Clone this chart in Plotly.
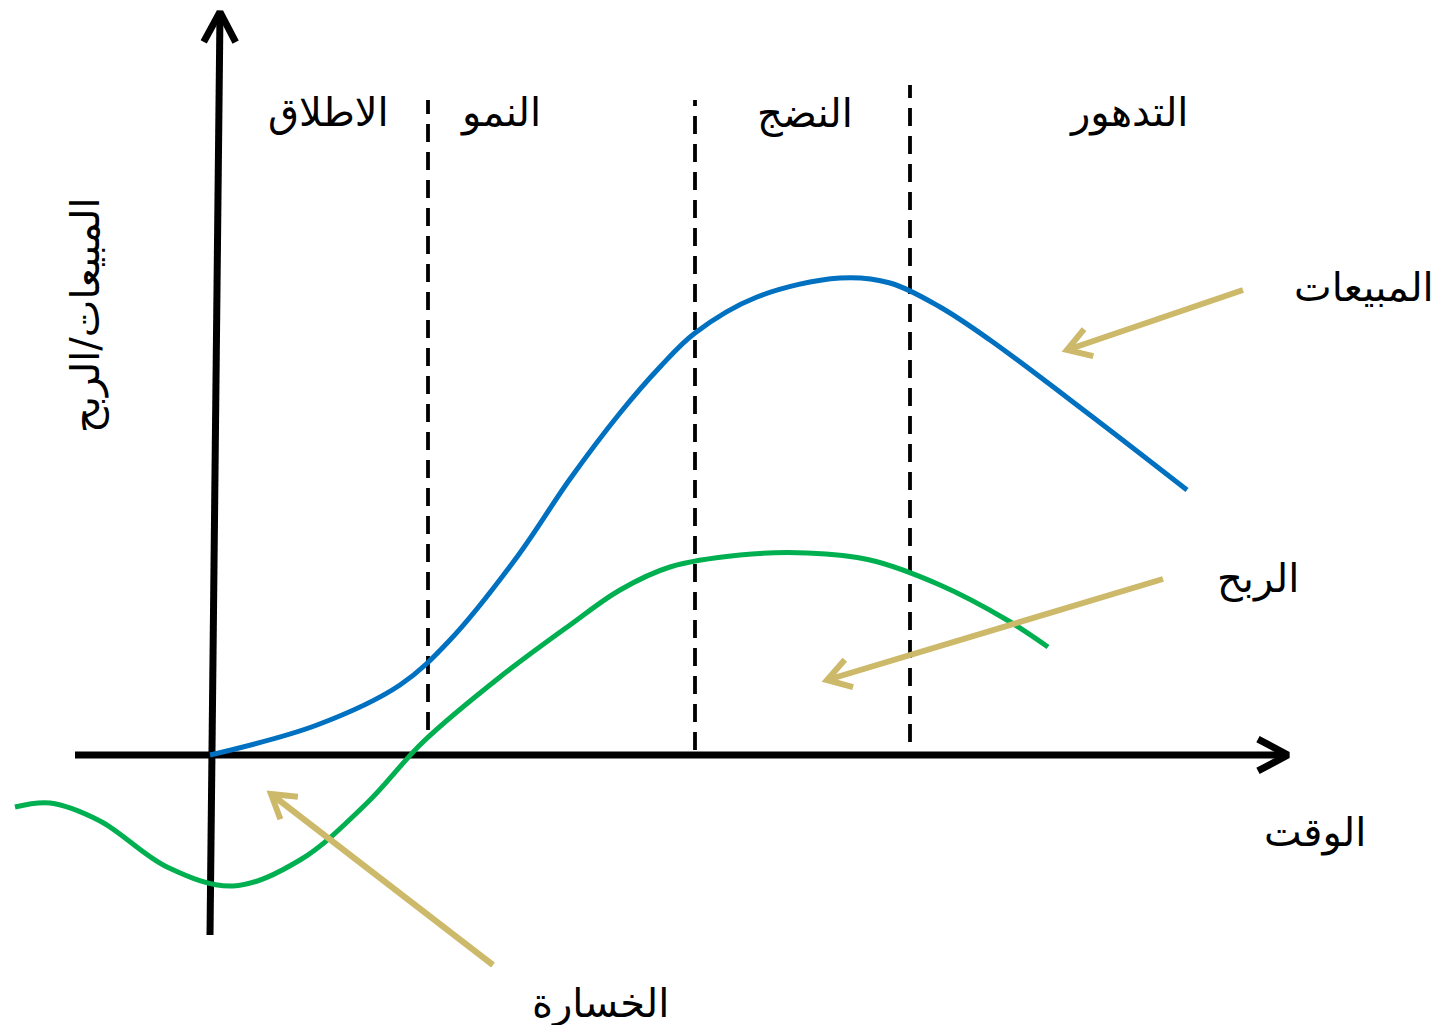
import math
import plotly.graph_objects as go

# ---- data (time units on x, value units on y) ----
sales_t = [0.0, 1.07, 1.9, 2.4, 3.07, 3.6, 4.1, 4.5, 4.85, 5.47, 6.3, 6.8, 7.3, 7.8, 8.8, 9.77]
sales_v = [0.0, 0.30, 0.70, 1.15, 1.98, 2.76, 3.42, 3.88, 4.22, 4.58, 4.77, 4.72, 4.48, 4.15, 3.40, 2.65]

profit_t = [-1.95, -1.6, -1.1, -0.43, 0.23, 0.9, 1.57, 2.13, 2.9, 3.6, 4.1, 4.6, 5.3, 5.97, 6.6, 7.3, 7.97, 8.38]
profit_v = [-0.52, -0.48, -0.66, -1.12, -1.31, -1.05, -0.48, 0.13, 0.78, 1.30, 1.65, 1.88, 2.00, 2.02, 1.95, 1.70, 1.35, 1.08]

stage_labels = ["الاطلاق", "النمو", "النضج", "التدهور"]
stage_bounds = [2.18, 4.85, 7.0]

sales_label = "المبيعات"
profit_label = "الربح"
loss_label = "الخسارة"
time_label = "الوقت"
yaxis_label = "المبيعات/الربح"

# ---- styles / layout constants ----
BLUE = "#0070C0"
GREEN = "#00B050"
GOLD = "#CDB96A"
FONT = "DejaVu Sans, Liberation Serif, serif"
FS = 40

fig = go.Figure()

def add_line(xs, ys, color, width, dash=None, shape="linear"):
    line = dict(color=color, width=width, dash=dash, shape=shape)
    if shape == "spline":
        line["smoothing"] = 1.0
    fig.add_trace(go.Scatter(x=xs, y=ys, mode="lines", hoverinfo="skip",
                             line=line, showlegend=False))

def add_arrow(tail, tip, color, width, arm=0.28, ang=32):
    add_line([tail[0], tip[0]], [tail[1], tip[1]], color, width)
    dx, dy = tail[0] - tip[0], tail[1] - tip[1]
    L = math.hypot(dx, dy)
    ux, uy = dx / L, dy / L
    xs, ys = [], []
    for s in (1, -1):
        a = math.radians(ang) * s
        rx = ux * math.cos(a) - uy * math.sin(a)
        ry = ux * math.sin(a) + uy * math.cos(a)
        xs.append(tip[0] + rx * arm)
        ys.append(tip[1] + ry * arm)
    add_line([xs[0], tip[0], xs[1]], [ys[0], tip[1], ys[1]], color, width)

# dashed stage boundaries
dash_tops = [6.55, 6.55, 6.7]
dash_bottoms = [0.25, 0.05, 0.13]
for b, top, bot in zip(stage_bounds, dash_tops, dash_bottoms):
    add_line([b, b], [bot, top], "black", 3.8, dash="18px,10px")

# axes
add_arrow((-1.35, 0.0), (10.78, 0.0), "black", 7, arm=0.34, ang=28)
add_arrow((0.0, -1.8), (0.1, 7.43), "black", 7, arm=0.34, ang=28)

# curves
add_line(sales_t, sales_v, BLUE, 5, shape="spline")
add_line(profit_t, profit_v, GREEN, 5, shape="spline")

# pointer arrows
add_arrow((10.33, 4.65), (8.57, 4.05), GOLD, 6, arm=0.27)
add_arrow((9.53, 1.76), (6.17, 0.75), GOLD, 6, arm=0.27)
add_arrow((2.83, -2.1), (0.61, -0.39), GOLD, 6, arm=0.27)

# text
stage_pos = [(1.18, 6.43), (2.9, 6.43), (5.95, 6.42), (9.18, 6.43)]
for lab, (x, y) in zip(stage_labels, stage_pos):
    fig.add_annotation(x=x, y=y, text=lab, showarrow=False, font=dict(size=FS, color="black", family=FONT))
for lab, (x, y) in zip([sales_label, profit_label, time_label, loss_label],
                       [(11.54, 4.68), (10.48, 1.77), (11.05, -0.77), (3.9, -2.48)]):
    fig.add_annotation(x=x, y=y, text=lab, showarrow=False, font=dict(size=FS, color="black", family=FONT))
fig.add_annotation(x=-1.25, y=4.4, text=yaxis_label, textangle=-90, showarrow=False,
                   font=dict(size=FS, color="black", family=FONT))

# page body adds an 8px margin: figure sized to fit, origin kept at screen (210, 755)
fig.update_layout(
    width=1429, height=1017,
    margin=dict(l=0, r=0, t=0, b=0),
    paper_bgcolor="white", plot_bgcolor="white",
    xaxis=dict(range=[-2.02, 12.27], visible=False, fixedrange=True),
    yaxis=dict(range=[-2.70, 7.47], visible=False, fixedrange=True),
    showlegend=False,
)

fig.write_html("out.html")
